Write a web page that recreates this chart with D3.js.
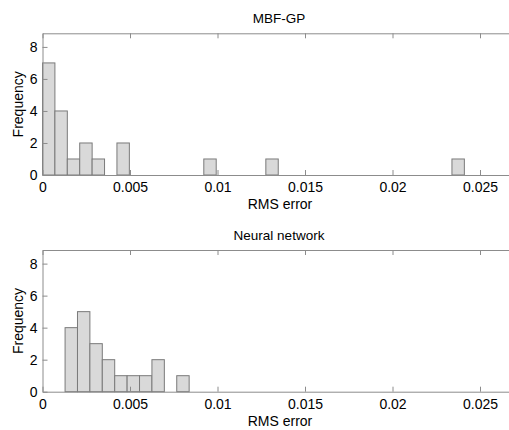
<!DOCTYPE html>
<html>
<head>
<meta charset="utf-8">
<script src="https://cdn.jsdelivr.net/npm/d3@7"></script>
<style>
  body { margin: 0; background: #fff; }
  text { font-family: Arial, "Liberation Sans", sans-serif; }
</style>
</head>
<body>
<svg width="509" height="430"></svg>
<script>
// histogram data
var xTicks = [0, 0.005, 0.01, 0.015, 0.02, 0.025];
var yTicks = [0, 2, 4, 6, 8];

var mbfTitle = 'MBF-GP';
var mbfBinStart = 0;
var mbfBinWidth = 0.000709;
var mbfCounts = [7, 4, 1, 2, 1, 0, 2, 0, 0, 0, 0, 0, 0, 1, 0, 0, 0, 0, 1,
                 0, 0, 0, 0, 0, 0, 0, 0, 0, 0, 0, 0, 0, 0, 1];

var nnTitle = 'Neural network';
var nnBinStart = 0.00129;
var nnBinWidth = 0.000709;
var nnCounts = [4, 5, 3, 2, 1, 1, 1, 2, 0, 1];

var svg = d3.select('svg');

var x = d3.scaleLinear().domain([0, 0.027]).range([42.5, 515]);

function panel(top, title, start, width, counts) {
  var y = d3.scaleLinear().domain([0, 8.85]).range([top + 141.7, top]);
  var g = svg.append('g');

  var bins = counts.map(function (c, i) {
    return { x0: start + i * width, x1: start + (i + 1) * width, n: c };
  });

  g.selectAll('rect')
    .data(bins)
    .enter()
    .append('rect')
    .attr('x', function (d) { return x(d.x0); })
    .attr('width', function (d) { return x(d.x1) - x(d.x0); })
    .attr('y', function (d) { return y(d.n); })
    .attr('height', function (d) { return y(0) - y(d.n); })
    .style('fill', '#d9d9d9')
    .style('stroke', '#7a7a7a')
    .style('stroke-width', 1);

  var bottom = g.append('g')
    .attr('transform', 'translate(0,' + y(0) + ')')
    .call(d3.axisBottom(x).tickValues(xTicks).tickFormat(String)
      .tickSizeInner(-5).tickSizeOuter(0).tickPadding(7));
  var topAx = g.append('g')
    .attr('transform', 'translate(0,' + top + ')')
    .call(d3.axisTop(x).tickValues(xTicks).tickFormat('')
      .tickSizeInner(-5).tickSizeOuter(0));
  var left = g.append('g')
    .attr('transform', 'translate(' + x(0) + ',0)')
    .call(d3.axisLeft(y).tickValues(yTicks).tickFormat(String)
      .tickSizeInner(-5).tickSizeOuter(0).tickPadding(5));

  [bottom, topAx, left].forEach(function (a) {
    a.selectAll('path, line').style('stroke', '#8c8c8c');
    a.selectAll('text').style('font-size', '14px').style('fill', '#000');
  });

  g.append('text')
    .attr('x', 279)
    .attr('y', top - 10.5)
    .attr('text-anchor', 'middle')
    .style('font-size', '13.5px')
    .text(title);

  g.append('text')
    .attr('x', 280)
    .attr('y', top + 176)
    .attr('text-anchor', 'middle')
    .style('font-size', '14px')
    .text('RMS error');

  g.append('text')
    .attr('transform', 'translate(23,' + (top + 71) + ') rotate(-90)')
    .attr('text-anchor', 'middle')
    .style('font-size', '14px')
    .text('Frequency');
}

panel(33.3, mbfTitle, mbfBinStart, mbfBinWidth, mbfCounts);
panel(250, nnTitle, nnBinStart, nnBinWidth, nnCounts);
</script>
</body>
</html>
